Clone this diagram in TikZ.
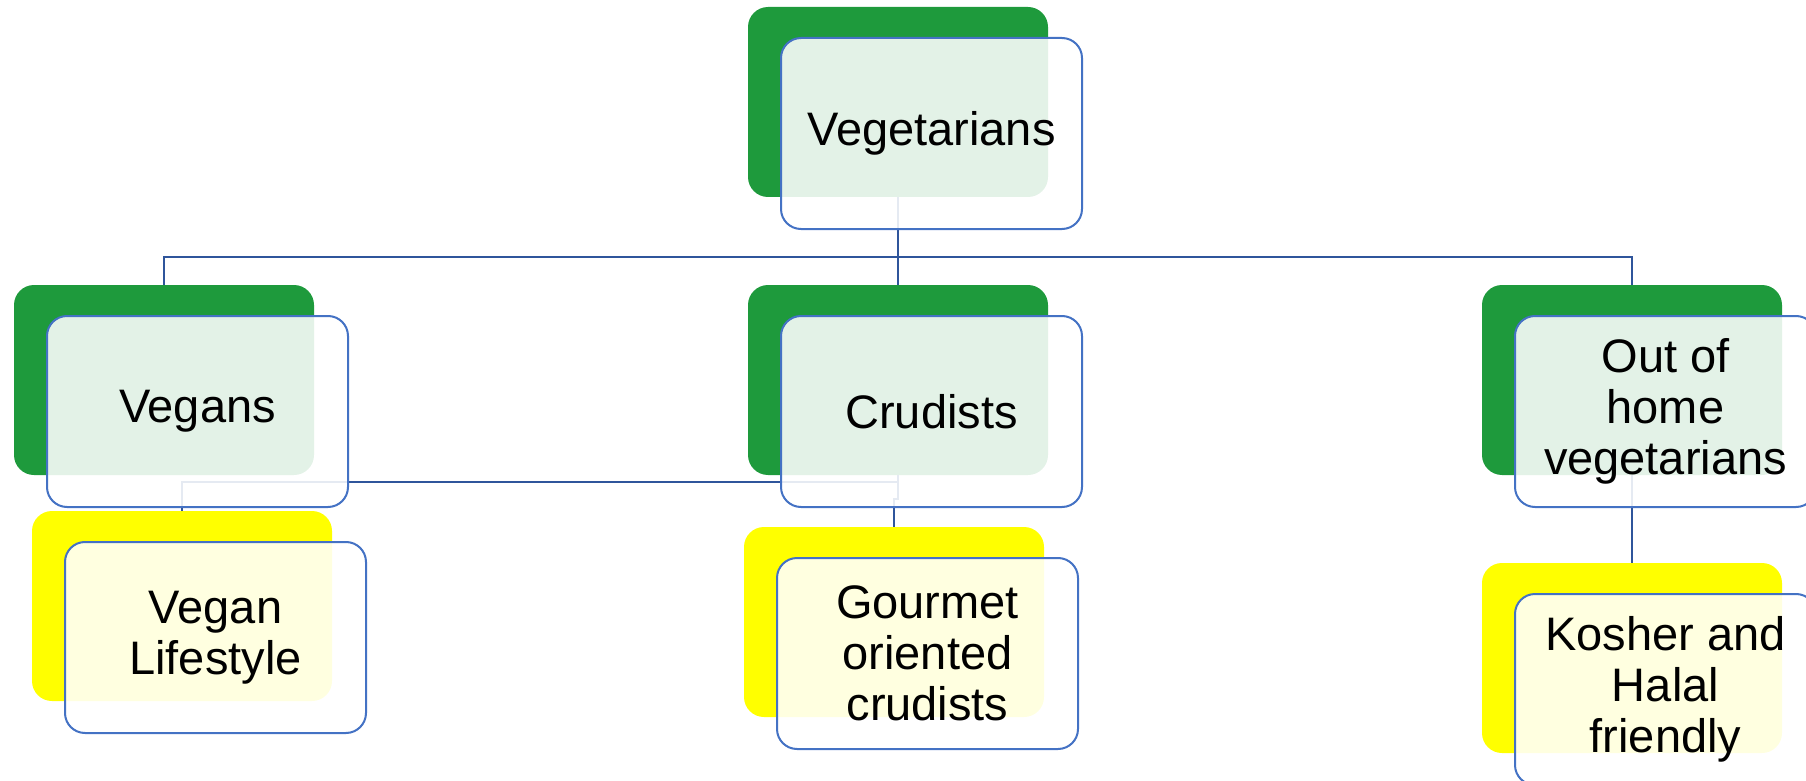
\documentclass[tikz,border=0pt]{standalone}
\usepackage{fontspec}
\setmainfont{Liberation Sans}
\usetikzlibrary{positioning}
\definecolor{leafgreen}{RGB}{30,154,60}
\definecolor{leafyellow}{RGB}{255,255,0}
\definecolor{linkblue}{RGB}{47,85,155}
\definecolor{edgeblue}{RGB}{68,114,196}

\begin{document}
\begin{tikzpicture}[x=0.5pt,y=-0.5pt]
\tikzset{back/.style={rounded corners=10pt, minimum width=150pt, minimum height=95pt, inner sep=0pt, outer sep=0pt},
  grn/.style={back,fill=leafgreen}, ylw/.style={back,fill=leafyellow},
  front/.style={draw=edgeblue, line width=1pt, fill=white, fill opacity=0.88, text opacity=1, rounded corners=10pt,
    minimum width=150.5pt, minimum height=95.5pt, inner sep=0pt, outer sep=0pt, align=center,
    font=\fontsize{23.5}{25.5}\selectfont},
  conn/.style={draw=linkblue, line width=0.8pt}};
  \clip (0,0) rectangle (1806,781);

  % coloured backs
  \node[grn] (topB) at (898,102) {};
  \node[grn] (vegB) at (164,380) {};
  \node[grn] (crudB) at (898,380) {};
  \node[grn] (outB) at (1632,380) {};
  \node[ylw] (lifeB) at (182,606) {};
  \node[ylw] (gourB) at (894,622) {};
  \node[ylw] (koshB) at (1632,658) {};

  % connectors
  \coordinate (bus) at (898,257);
  \draw[conn] (topB.south) -- (crudB.north);
  \draw[conn] (vegB.north) |- (bus) -| (outB.north);
  \draw[conn] (outB.south) -- (koshB.north);
  \draw[conn] (crudB.south) -- ++(0,-12pt) -| (gourB.north);
  \draw[conn] (lifeB.north) |- ([yshift=-3.5pt]crudB.south);

  % boxes in front
  \node[front, below right=15.5pt and 16.5pt of topB.north west] (top) {Vegetarians};
  \node[front, below right=15.5pt and 16.5pt of vegB.north west] (veg) {Vegans};
  \node[front, below right=15.5pt and 16.5pt of crudB.north west] (crud) {Crudists};
  \node[front, below right=15.5pt and 16.5pt of outB.north west] (out) {Out of\\home\\vegetarians};
  \node[front, below right=15.5pt and 16.5pt of lifeB.north west] (life) {Vegan\\Lifestyle};
  \node[front, below right=15.5pt and 16.5pt of gourB.north west] (gour) {Gourmet\\oriented\\crudists};
  \node[front, below right=15.5pt and 16.5pt of koshB.north west] (kosh) {Kosher and\\Halal\\friendly};
\end{tikzpicture}
\end{document}
